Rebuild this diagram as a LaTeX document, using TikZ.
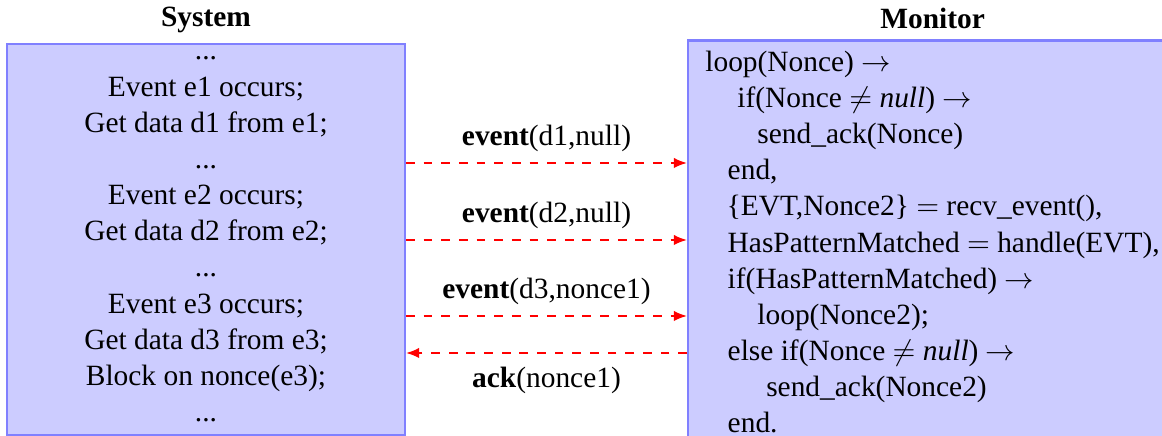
\documentclass[tikz,border=0pt]{standalone}
\usepackage{amsmath, amssymb}
\usepackage{fontspec}
\setmainfont{Liberation Serif}
\usetikzlibrary{arrows,arrows.meta,positioning,calc}

\begin{document}
\begin{tikzpicture}[x=0.34pt,y=-0.34pt,
        box/.style={draw=blue!50, fill=blue!20, line width=0.7pt, font=\fontsize{10}{12.3}\selectfont},
        msg/.style={-{Latex[length=4.5pt,width=3.6pt]}, red, dashed, line width=0.7pt}]
        \useasboundingbox (0,0) rectangle (1162,436);
        % the two parties
        \node[box, align=center, inner sep=0pt, minimum width=135.3pt, minimum height=132.9pt] (sys) at (206,239.5)
            {...\\Event e1 occurs;\\Get data d1 from e1;\\...\\Event e2 occurs;\\Get data d2 from e2;\\...\\Event e3 occurs;\\Get data d3 from e3;\\Block on nonce(e3);\\...};
        \node[box, align=left, anchor=north west, inner xsep=5.9pt, inner ysep=3.5pt] (mon) at (687,39.5)
            {loop(Nonce) $\rightarrow$\\
            \hspace*{10.9pt}if(Nonce $\neq$ \textit{null}) $\rightarrow$\\
            \hspace*{17.7pt}send\_ack(Nonce)\\
            \hspace*{7.6pt}end,\\
            \hspace*{7.3pt}\{EVT,Nonce2\} $=$ recv\_event(),\\
            \hspace*{7.6pt}HasPatternMatched $=$ handle(EVT),\\
            \hspace*{7.6pt}if(HasPatternMatched) $\rightarrow$\\
            \hspace*{17.7pt}loop(Nonce2);\\
            \hspace*{7.6pt}else if(Nonce $\neq$ \textit{null}) $\rightarrow$\\
            \hspace*{20.7pt}send\_ack(Nonce2)\\
            \hspace*{7.6pt}end.};
        \node[above, font=\bfseries] (systitle) at (sys.north) {System};
        \node[above, font=\bfseries] (montitle) at (mon.north) {Monitor};
        % messages
        \draw[msg] (sys.east |- 0,163) -- (mon.west |- 0,163) node[midway, above, text=black] {\textbf{event}(d1,null)};
        \draw[msg] (sys.east |- 0,240) -- (mon.west |- 0,240) node[midway, above, text=black] {\textbf{event}(d2,null)};
        \draw[msg] (sys.east |- 0,316) -- (mon.west |- 0,316) node[midway, above, text=black] {\textbf{event}(d3,nonce1)};
        \draw[msg] (mon.west |- 0,353) -- (sys.east |- 0,353) node[midway, below=1pt, text=black] {\textbf{ack}(nonce1)};
    \end{tikzpicture}
\end{document}
